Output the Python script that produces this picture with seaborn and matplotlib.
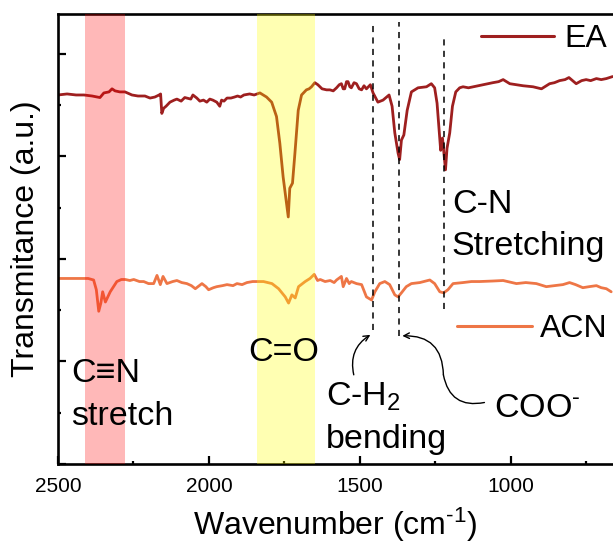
import matplotlib
matplotlib.use("Agg")
import matplotlib.pyplot as plt
from matplotlib.lines import Line2D
from matplotlib.ticker import MultipleLocator
import seaborn as sns
import pandas as pd

# ---------------- data ----------------
ea_wn = [2500, 2470, 2440, 2414, 2387, 2361, 2348, 2331, 2321, 2311, 2295, 2278, 2255, 2235, 2212,
         2195, 2179, 2165, 2160, 2156, 2150, 2142, 2129, 2115, 2106, 2092, 2080, 2060, 2053, 2040,
         2030, 2018, 2007, 1997, 1987, 1974, 1964, 1958, 1950, 1940, 1927, 1915, 1905, 1895, 1884,
         1865, 1850, 1841, 1831, 1809, 1792, 1776, 1765, 1754, 1743, 1737, 1732, 1723, 1715, 1704,
         1693, 1677, 1668, 1660, 1649, 1639, 1625, 1610, 1599, 1588, 1577, 1568, 1561, 1555, 1550,
         1544, 1539, 1533, 1528, 1519, 1511, 1502, 1494, 1486, 1478, 1465, 1456, 1440, 1423, 1403,
         1393, 1384, 1373, 1368, 1362, 1354, 1343, 1329, 1307, 1279, 1263, 1252, 1244, 1238, 1232,
         1226, 1221, 1216, 1211, 1202, 1193, 1182, 1169, 1158, 1140, 1125, 1092, 1059, 1040, 1025,
         1003, 980, 959, 926, 898, 871, 855, 838, 820, 807, 783, 765, 750, 735, 716, 700, 683, 662]
ea_t = [3.60, 3.61, 3.60, 3.60, 3.59, 3.575, 3.62, 3.63, 3.66, 3.64, 3.63, 3.63, 3.60, 3.59, 3.59,
        3.57, 3.58, 3.60, 3.61, 3.42, 3.47, 3.49, 3.53, 3.55, 3.56, 3.54, 3.575, 3.56, 3.60, 3.57,
        3.54, 3.55, 3.53, 3.56, 3.55, 3.53, 3.49, 3.55, 3.54, 3.57, 3.57, 3.58, 3.59, 3.58, 3.60,
        3.61, 3.60, 3.61, 3.62, 3.58, 3.53, 3.39, 3.13, 2.80, 2.55, 2.41, 2.69, 2.74, 3.03, 3.45,
        3.60, 3.65, 3.66, 3.68, 3.72, 3.70, 3.66, 3.65, 3.65, 3.64, 3.67, 3.70, 3.71, 3.66, 3.66,
        3.73, 3.73, 3.68, 3.67, 3.72, 3.71, 3.66, 3.65, 3.69, 3.66, 3.70, 3.62, 3.53, 3.55, 3.60,
        3.49, 3.23, 3.03, 2.97, 3.16, 3.21, 3.45, 3.63, 3.67, 3.68, 3.71, 3.67, 3.52, 3.29, 3.06,
        3.18, 3.03, 2.87, 3.08, 3.23, 3.49, 3.63, 3.67, 3.68, 3.67, 3.68, 3.70, 3.72, 3.73, 3.75,
        3.71, 3.70, 3.69, 3.68, 3.66, 3.71, 3.72, 3.74, 3.75, 3.77, 3.71, 3.74, 3.75, 3.74, 3.76,
        3.75, 3.76, 3.78]

acn_wn = [2500, 2470, 2440, 2400, 2382, 2373, 2365, 2358, 2352, 2343, 2327, 2305, 2290, 2277, 2262,
          2249, 2230, 2216, 2200, 2183, 2172, 2161, 2152, 2139, 2120, 2106, 2090, 2073, 2058, 2045,
          2023, 2010, 2001, 1985, 1974, 1955, 1940, 1920, 1907, 1890, 1874, 1855, 1841, 1819, 1791,
          1769, 1747, 1736, 1725, 1714, 1703, 1681, 1665, 1651, 1640, 1631, 1615, 1598, 1585, 1577,
          1561, 1555, 1544, 1535, 1528, 1511, 1494, 1478, 1461, 1450, 1434, 1417, 1401, 1384, 1373,
          1362, 1346, 1329, 1301, 1268, 1252, 1235, 1222, 1208, 1191, 1158, 1130, 1103, 1060, 1025,
          981, 950, 915, 882, 855, 827, 805, 785, 761, 740, 716, 700, 683, 667]
acn_t = [1.81, 1.81, 1.81, 1.81, 1.795, 1.70, 1.49, 1.57, 1.68, 1.58, 1.68, 1.78, 1.80, 1.80, 1.79,
         1.80, 1.78, 1.78, 1.76, 1.76, 1.84, 1.75, 1.83, 1.76, 1.78, 1.79, 1.77, 1.76, 1.74, 1.71,
         1.76, 1.73, 1.70, 1.72, 1.73, 1.74, 1.75, 1.74, 1.76, 1.75, 1.77, 1.78, 1.78, 1.78, 1.76,
         1.71, 1.63, 1.57, 1.65, 1.62, 1.73, 1.78, 1.81, 1.85, 1.79, 1.80, 1.78, 1.79, 1.77, 1.795,
         1.83, 1.73, 1.81, 1.76, 1.78, 1.76, 1.75, 1.63, 1.60, 1.68, 1.76, 1.78, 1.75, 1.65, 1.63,
         1.67, 1.73, 1.76, 1.77, 1.795, 1.76, 1.68, 1.67, 1.70, 1.76, 1.77, 1.78, 1.78, 1.785, 1.79,
         1.76, 1.77, 1.76, 1.73, 1.74, 1.75, 1.77, 1.75, 1.72, 1.73, 1.74, 1.72, 1.71, 1.68]

series_names = ["EA", "ACN"]
band_cn = (2410, 2278)
band_co = (1841, 1647)
dash_pos = [1456, 1369, 1220]
dash_top = [4.31, 4.31, 4.16]
dash_bottom = [1.31, 1.25, 1.51]
x_ticks = [2500, 2000, 1500, 1000]

# ---------------- style ----------------
sns.set_style("ticks")
plt.rcParams["font.family"] = ["Liberation Sans", "DejaVu Sans"]
plt.rcParams["mathtext.fontset"] = "custom"
plt.rcParams["mathtext.rm"] = "Liberation Sans"
plt.rcParams["mathtext.it"] = "Liberation Sans"
plt.rcParams["mathtext.default"] = "regular"
for k in ["text.color", "axes.labelcolor", "xtick.color", "ytick.color", "axes.edgecolor"]:
    plt.rcParams[k] = "black"

BIG = 23
ANN = 24.5
EA_COLOR = "#9E1F1F"
ACN_COLOR = "#EE7646"

fig = plt.figure(figsize=(6.13, 5.44), dpi=100)
ax = fig.add_axes([58 / 613, 80 / 544, 1 - 58 / 613, 450 / 544])

df_ea = pd.DataFrame({"wn": ea_wn, "T": ea_t})
df_acn = pd.DataFrame({"wn": acn_wn, "T": acn_t})
sns.lineplot(data=df_ea, x="wn", y="T", color=EA_COLOR, lw=2.0, estimator=None, ax=ax, zorder=2)
sns.lineplot(data=df_acn, x="wn", y="T", color=ACN_COLOR, lw=2.0, estimator=None, ax=ax, zorder=2)

# translucent bands drawn over the spectra
ax.axvspan(band_cn[0], band_cn[1], color="#FF0000", alpha=0.28, lw=0, zorder=3)
ax.axvspan(band_co[0], band_co[1], color="#FFFF00", alpha=0.30, lw=0, zorder=3)

# dashed guide lines
for xp, yt, yb in zip(dash_pos, dash_top, dash_bottom):
    ax.vlines(xp, yb, yt, colors="black", linestyles=(0, (4, 3.5)), lw=1.1, zorder=4)

ax.set_xlim(2500, 661)
ax.set_ylim(0, 4.39)
ax.set_xticks(x_ticks)
ax.xaxis.set_minor_locator(MultipleLocator(250))
ax.yaxis.set_major_locator(MultipleLocator(1))
ax.yaxis.set_minor_locator(MultipleLocator(0.5))
ax.set_yticklabels([])
ax.tick_params(axis="both", which="major", direction="in", length=6, width=1.6,
               labelsize=15, pad=9, top=False, right=False, colors="black")
ax.tick_params(axis="both", which="minor", direction="in", length=2.5, width=1.6,
               top=False, right=False, colors="black")
ax.tick_params(axis="y", which="both", labelleft=False)

for s in ["left", "top", "bottom"]:
    ax.spines[s].set_linewidth(1.9)
    ax.spines[s].set_color("black")
ax.spines["right"].set_visible(False)

ax.set_xlabel("Wavenumber (cm$^{‐1}$)", fontsize=BIG, labelpad=7)
ax.set_ylabel("Transmitance (a.u.)", fontsize=BIG, labelpad=12)

# annotations
ax.text(2455, 0.80, "C≡N", fontsize=ANN, ha="left", va="baseline", zorder=5)
ax.text(2455, 0.38, "stretch", fontsize=ANN, ha="left", va="baseline", zorder=5)
ax.text(1753, 1.005, "C=O", fontsize=ANN, ha="center", va="baseline", zorder=5)
ax.text(1612, 0.565, "C-H$_2$", fontsize=ANN, ha="left", va="baseline", zorder=5)
ax.text(1612, 0.156, "bending", fontsize=ANN, ha="left", va="baseline", zorder=5)
ax.text(1055, 0.46, "COO$^{‐}$", fontsize=ANN, ha="left", va="baseline", zorder=5)
ax.text(1195, 2.45, "C-N", fontsize=ANN, ha="left", va="baseline", zorder=5)
ax.text(1195, 2.04, "Stretching", fontsize=ANN, ha="left", va="baseline", zorder=5)

ax.annotate("", xy=(1465, 1.26), xytext=(1520, 0.87),
            arrowprops=dict(arrowstyle="->", lw=1.0, color="black",
                            connectionstyle="arc3,rad=-0.35", shrinkA=0, shrinkB=0))
ax.annotate("", xy=(1223, 0.87), xytext=(1087, 0.60),
            arrowprops=dict(arrowstyle="-", lw=1.0, color="black",
                            connectionstyle="arc3,rad=-0.5", shrinkA=0, shrinkB=0))
ax.annotate("", xy=(1359, 1.25), xytext=(1223, 0.87),
            arrowprops=dict(arrowstyle="->", lw=1.0, color="black",
                            connectionstyle="arc3,rad=0.5", shrinkA=0, shrinkB=0))

# legends
h_ea = Line2D([], [], color=EA_COLOR, lw=2.2)
h_acn = Line2D([], [], color=ACN_COLOR, lw=2.2)
leg1 = ax.legend([h_ea], [series_names[0]], loc="center left", bbox_to_anchor=(0.762, 0.944),
                 frameon=False, fontsize=BIG, handlelength=2.3, handletextpad=0.3,
                 borderpad=0, borderaxespad=0)
ax.add_artist(leg1)
ax.legend([h_acn], [series_names[1]], loc="center left", bbox_to_anchor=(0.719, 0.30),
          frameon=False, fontsize=BIG, handlelength=2.35, handletextpad=0.25,
          borderpad=0, borderaxespad=0)

fig.savefig("out.png", dpi=100)
